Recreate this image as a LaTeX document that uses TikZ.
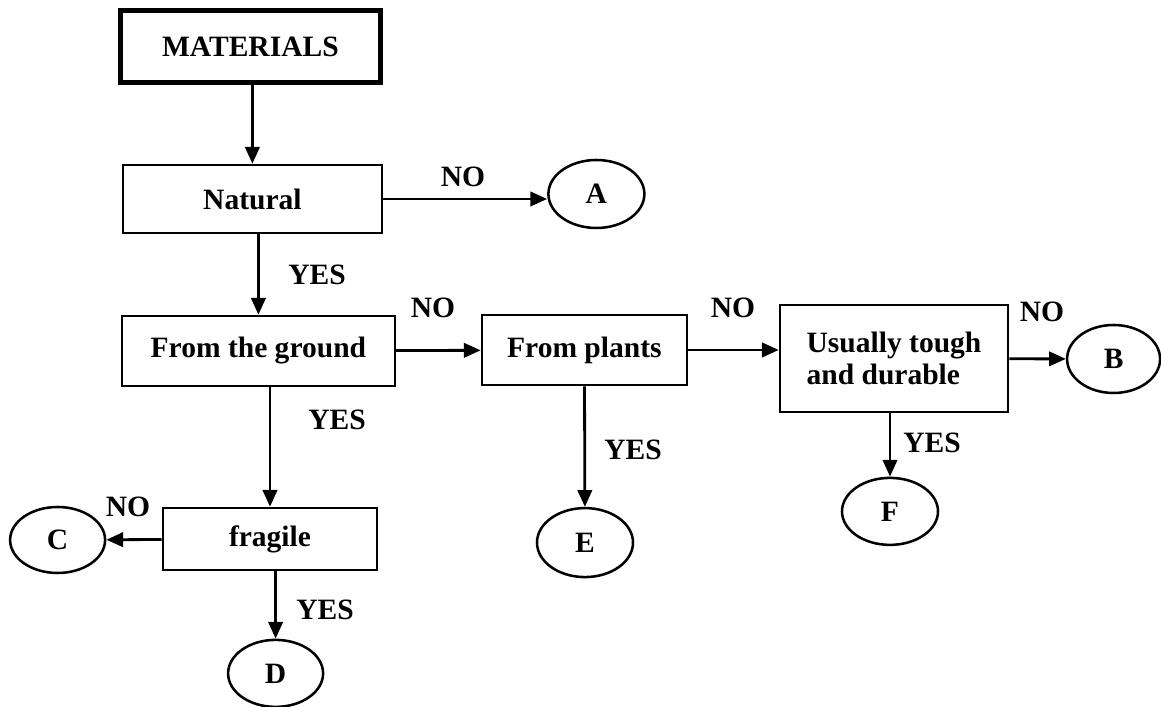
\documentclass[tikz,border=0pt]{standalone}
\usepackage{fontspec}
\setmainfont{Liberation Serif}
\usetikzlibrary{arrows.meta,shapes.geometric}

\tikzset{
  box/.style={draw, line width=1.8pt, inner sep=0pt, align=center},
  oval/.style={ellipse, draw, line width=1.8pt, inner sep=0pt, minimum width=2.4cm, minimum height=1.7cm},
  arr/.style={line width=2pt, -{Triangle[length=0.42cm,width=0.36cm]}},
}

\begin{document}
\begin{tikzpicture}[font=\fontsize{21}{23}\selectfont\bfseries]
				\useasboundingbox (0,0) rectangle (29.025,17.675);
				
				% boxes
				\node[box, line width=3.8pt, minimum width=6.5cm, minimum height=1.8cm] (mat) at (6.26,16.51) {MATERIALS};
				\node[box, minimum width=6.475cm, minimum height=1.7cm] (nat) at (6.31,12.7) {Natural};
				\node[box, minimum width=6.825cm, minimum height=1.75cm] (ground) at (6.46,8.9) {From the ground};
				\node[box, minimum width=5.35cm, minimum height=1.55cm] (frag) at (6.75,4.2) {fragile};
				\node[box, minimum width=5.125cm, minimum height=1.75cm] (plants) at (14.61,8.925) {From plants};
				\node[box, align=left, minimum width=5.7cm, minimum height=2.675cm] (tough) at (22.35,8.71) {Usually tough\\and durable};
				
				% end points
				\node[oval] (A) at (14.91,12.825) {A};
				\node[oval, minimum width=2.325cm] (B) at (27.84,8.7) {B};
				\node[oval, minimum width=2.375cm, minimum height=1.65cm] (C) at (1.44,4.175) {C};
				\node[oval, minimum width=2.375cm, minimum height=1.675cm] (D) at (6.89,0.84) {D};
				\node[oval, minimum height=1.725cm] (E) at (14.625,4.11) {E};
				\node[oval, minimum height=1.675cm] (F) at (22.25,4.89) {F};
				
				% connectors
				\draw[arr] (mat.south -| nat) -- (nat);
				\draw[arr] (nat) -- (nat -| A.west);
				\draw[arr] (nat.south -| ground) -- (ground);
				\draw[arr] (ground) -- (plants);
				\draw[arr] (ground.south -| frag) -- (frag.north);
				\draw[arr] (frag) -- (C);
				\draw[arr] (frag.south -| D) -- (D);
				\draw[arr] (plants) -- (E);
				\draw[arr] (plants) -- (plants -| tough.west);
				\draw[arr] (tough) -- (B);
				\draw[arr] (tough.south -| F) -- (F);
				
				% answers
				\node (noA) at (11.575,13.25) {NO};
				\node (yesNat) at (7.925,10.8) {YES};
				\node (noGround) at (10.825,9.975) {NO};
				\node (yesGround) at (8.425,7.175) {YES};
				\node (noFrag) at (3.2,5.0) {NO};
				\node (yesFrag) at (8.125,2.425) {YES};
				\node (yesPlants) at (15.825,6.425) {YES};
				\node (noPlants) at (18.325,9.975) {NO};
				\node (noTough) at (26.05,9.875) {NO};
				\node (yesTough) at (23.3,6.6) {YES};
			\end{tikzpicture}
\end{document}
